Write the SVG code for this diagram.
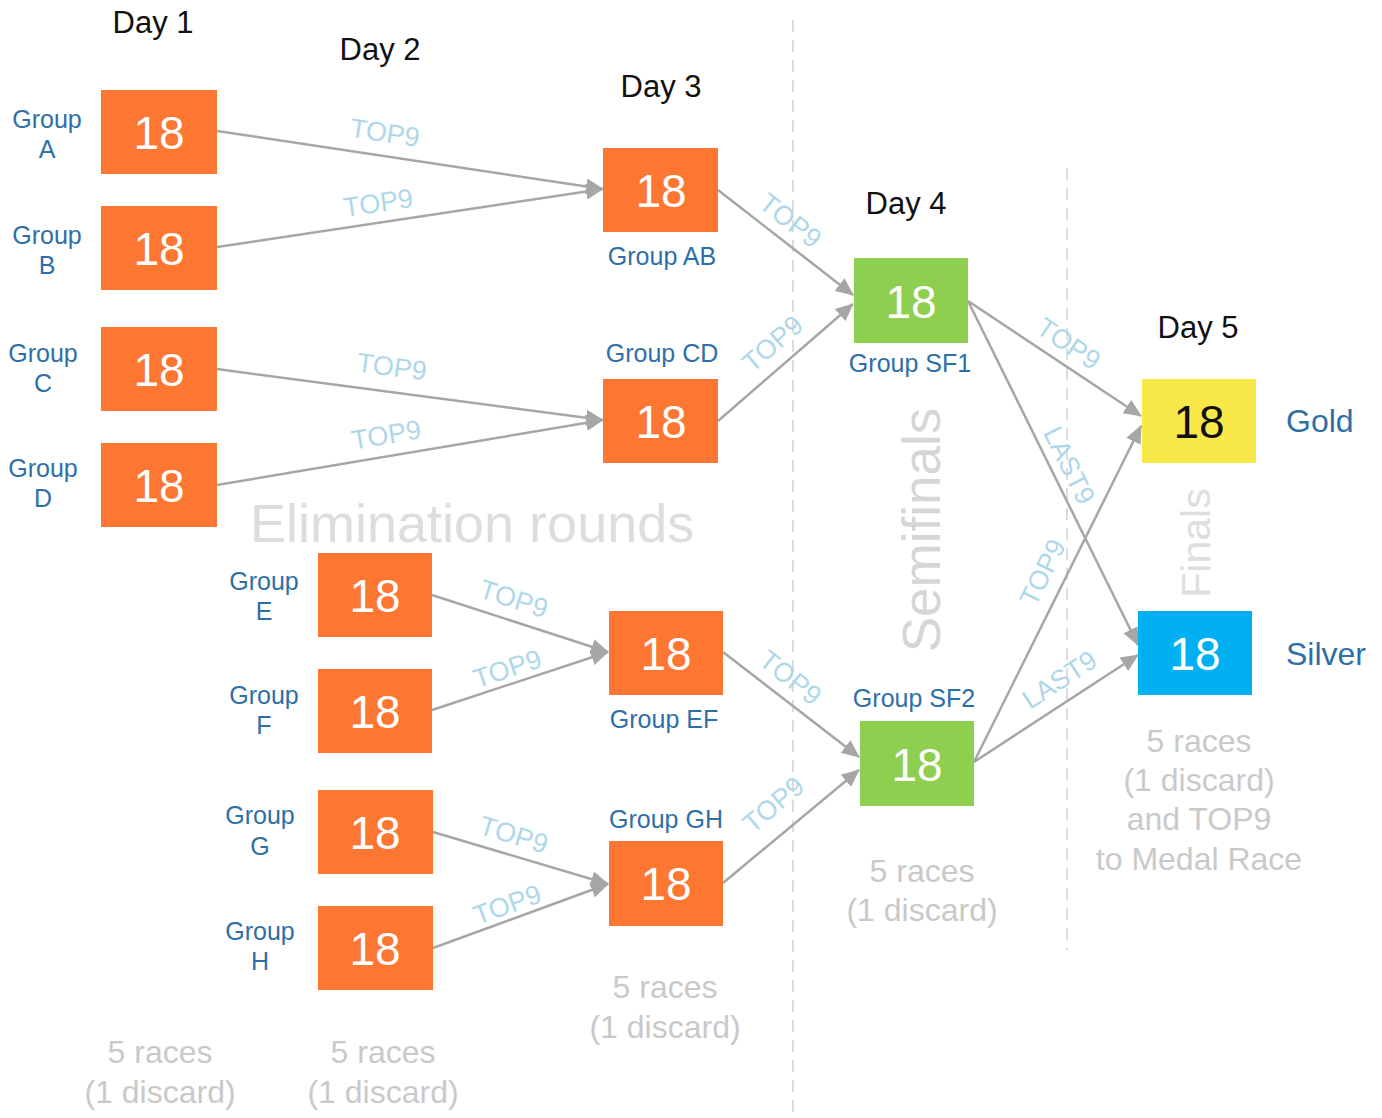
<svg xmlns="http://www.w3.org/2000/svg" width="1382" height="1118" viewBox="0 0 1382 1118">
<style>
text{font-family:"Liberation Sans",Arial,sans-serif}
.day{font-size:31px;fill:#111;text-anchor:middle}
.num{font-size:46px;fill:#fff;text-anchor:middle}
.grp{font-size:25px;fill:#2e6fa7;text-anchor:middle}
.medal{font-size:32px;fill:#2e6fa7}
.lbl{font-size:27px;fill:#afd7ea;text-anchor:middle}
.note{font-size:32px;fill:#c9c9c9;text-anchor:middle}
.big{fill:#dddddd}
.or{fill:#fd7632}
.gr{fill:#8fcf4f}
.conn line{stroke:#a6a6a6;stroke-width:2.5;marker-end:url(#ah)}
.dash{stroke:#dcdcdc;stroke-width:2;stroke-dasharray:12 8}
</style>
<defs>
<marker id="ah" markerWidth="18" markerHeight="16" refX="17" refY="8" orient="auto" markerUnits="userSpaceOnUse"><path d="M0,0 L18,8 L0,16 z" fill="#a6a6a6"/></marker>
</defs>
<rect width="1382" height="1118" fill="#fff"/>

<g id="dividers">
<line class="dash" x1="793" y1="20" x2="793" y2="1118"/>
<line class="dash" x1="1067" y1="168" x2="1067" y2="950"/>
</g>

<g id="section-titles">
<text x="250" y="542" font-size="54" class="big">Elimination rounds</text>
<text transform="translate(940,530) rotate(-90)" font-size="53" text-anchor="middle" fill="#d6d6d6">Semifinals</text>
<text transform="translate(1210,543) rotate(-90)" font-size="41" text-anchor="middle" fill="#dedede">Finals</text>
</g>

<g id="days">
<text class="day" x="153" y="33">Day 1</text>
<text class="day" x="380" y="60">Day 2</text>
<text class="day" x="661" y="97">Day 3</text>
<text class="day" x="906" y="214">Day 4</text>
<text class="day" x="1198" y="338">Day 5</text>
</g>

<g id="connectors" class="conn">
<line x1="217" y1="131" x2="603" y2="189"/>
<line x1="217" y1="247" x2="603" y2="189"/>
<line x1="217" y1="369" x2="603" y2="420"/>
<line x1="217" y1="485" x2="603" y2="420"/>
<line x1="432" y1="595" x2="608" y2="652"/>
<line x1="432" y1="710" x2="608" y2="652"/>
<line x1="433" y1="832" x2="608" y2="884"/>
<line x1="433" y1="948" x2="608" y2="884"/>
<line x1="718" y1="190" x2="853" y2="295"/>
<line x1="718" y1="421" x2="853" y2="304"/>
<line x1="723" y1="652" x2="859" y2="757"/>
<line x1="723" y1="883" x2="859" y2="770"/>
<line x1="968" y1="301" x2="1141" y2="416"/>
<line x1="968" y1="301" x2="1138" y2="645"/>
<line x1="974" y1="762" x2="1141" y2="426"/>
<line x1="974" y1="762" x2="1138" y2="655"/>
</g>

<g id="connector-labels">
<text class="lbl" transform="translate(385,132) rotate(8.5)" y="10">TOP9</text>
<text class="lbl" transform="translate(378,202) rotate(-8.5)" y="10">TOP9</text>
<text class="lbl" transform="translate(392,366) rotate(7.5)" y="10">TOP9</text>
<text class="lbl" transform="translate(386,434) rotate(-9.6)" y="10">TOP9</text>
<text class="lbl" transform="translate(514,598) rotate(18)" y="10">TOP9</text>
<text class="lbl" transform="translate(507,668) rotate(-18.3)" y="10">TOP9</text>
<text class="lbl" transform="translate(514,834) rotate(17)" y="10">TOP9</text>
<text class="lbl" transform="translate(507,904) rotate(-19.9)" y="10">TOP9</text>
<text class="lbl" transform="translate(791,220) rotate(38)" y="10">TOP9</text>
<text class="lbl" transform="translate(772,343) rotate(-41)" y="10">TOP9</text>
<text class="lbl" transform="translate(791,677) rotate(38)" y="10">TOP9</text>
<text class="lbl" transform="translate(773,804) rotate(-40)" y="10">TOP9</text>
<text class="lbl" transform="translate(1069,343) rotate(34)" y="10">TOP9</text>
<text class="lbl" transform="translate(1070,465) rotate(63.7)" y="10">LAST9</text>
<text class="lbl" transform="translate(1042,572) rotate(-63.6)" y="10">TOP9</text>
<text class="lbl" transform="translate(1059,679) rotate(-33.1)" y="10">LAST9</text>
</g>

<g id="group-a"><rect class="or" x="101" y="90" width="116" height="84"/><text class="num" x="159" y="149">18</text><text class="grp" x="47" y="128">Group</text><text class="grp" x="47" y="158">A</text></g>
<g id="group-b"><rect class="or" x="101" y="206" width="116" height="84"/><text class="num" x="159" y="265">18</text><text class="grp" x="47" y="244">Group</text><text class="grp" x="47" y="274">B</text></g>
<g id="group-c"><rect class="or" x="101" y="327" width="116" height="84"/><text class="num" x="159" y="386">18</text><text class="grp" x="43" y="362">Group</text><text class="grp" x="43" y="392">C</text></g>
<g id="group-d"><rect class="or" x="101" y="443" width="116" height="84"/><text class="num" x="159" y="502">18</text><text class="grp" x="43" y="477">Group</text><text class="grp" x="43" y="507">D</text></g>
<g id="group-e"><rect class="or" x="318" y="553" width="114" height="84"/><text class="num" x="375" y="612">18</text><text class="grp" x="264" y="590">Group</text><text class="grp" x="264" y="620">E</text></g>
<g id="group-f"><rect class="or" x="318" y="669" width="114" height="84"/><text class="num" x="375" y="728">18</text><text class="grp" x="264" y="704">Group</text><text class="grp" x="264" y="734">F</text></g>
<g id="group-g"><rect class="or" x="318" y="790" width="115" height="84"/><text class="num" x="375" y="849">18</text><text class="grp" x="260" y="824">Group</text><text class="grp" x="260" y="855">G</text></g>
<g id="group-h"><rect class="or" x="318" y="906" width="115" height="84"/><text class="num" x="375" y="965">18</text><text class="grp" x="260" y="940">Group</text><text class="grp" x="260" y="970">H</text></g>

<g id="group-ab"><rect class="or" x="603" y="148" width="115" height="84"/><text class="num" x="661" y="207">18</text><text class="grp" x="662" y="265">Group AB</text></g>
<g id="group-cd"><rect class="or" x="603" y="379" width="115" height="84"/><text class="num" x="661" y="438">18</text><text class="grp" x="662" y="362">Group CD</text></g>
<g id="group-ef"><rect class="or" x="609" y="611" width="114" height="84"/><text class="num" x="666" y="670">18</text><text class="grp" x="664" y="728">Group EF</text></g>
<g id="group-gh"><rect class="or" x="609" y="841" width="114" height="85"/><text class="num" x="666" y="900">18</text><text class="grp" x="666" y="828">Group GH</text></g>

<g id="group-sf1"><rect class="gr" x="854" y="258" width="114" height="85"/><text class="num" x="911" y="318">18</text><text class="grp" x="910" y="372">Group SF1</text></g>
<g id="group-sf2"><rect class="gr" x="860" y="721" width="114" height="85"/><text class="num" x="917" y="781">18</text><text class="grp" x="914" y="707">Group SF2</text></g>

<g id="gold"><rect x="1142" y="379" width="114" height="84" fill="#f9e84a"/><text class="num" x="1199" y="438" style="fill:#111">18</text><text class="medal" x="1286" y="432">Gold</text></g>
<g id="silver"><rect x="1138" y="611" width="114" height="84" fill="#00b0f0"/><text class="num" x="1195" y="670">18</text><text class="medal" x="1286" y="665">Silver</text></g>

<g id="notes">
<text class="note" x="160" y="1063">5 races</text><text class="note" x="160" y="1103">(1 discard)</text>
<text class="note" x="383" y="1063">5 races</text><text class="note" x="383" y="1103">(1 discard)</text>
<text class="note" x="665" y="998">5 races</text><text class="note" x="665" y="1038">(1 discard)</text>
<text class="note" x="922" y="882">5 races</text><text class="note" x="922" y="921">(1 discard)</text>
<text class="note" x="1199" y="752">5 races</text><text class="note" x="1199" y="791">(1 discard)</text><text class="note" x="1199" y="830">and TOP9</text><text class="note" x="1199" y="870">to Medal Race</text>
</g>
</svg>
